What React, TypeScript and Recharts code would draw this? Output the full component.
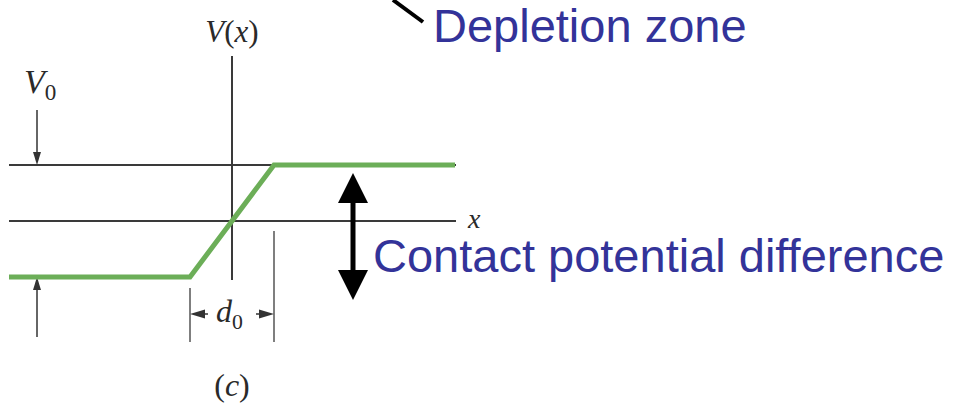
import React from 'react';
import { ComposedChart, Line, XAxis, YAxis, ReferenceLine, ReferenceDot } from 'recharts';

// coordinates are offsets from the origin where the axes cross (x right, V up)
const greenX = [-223, -42, 42, 223];
const greenV = [-56, -56, 56, 56];
const axisSpan = [-223, 224];
const levelTop = 56;
const vAxisSpan = [165, -59];
const d0Left = { x: -42, from: -67, to: -121 };
const d0Right = { x: 42, from: -10, to: -121 };
const d0ArrowV = -93;
const v0ArrowX = -195;
const contactArrowX = 121;
const contactArrowSpan = [48, -79];

const xDomain = [-232, 727];
const yDomain = [-188, 221];

const BLUE = '#333399';
const GREEN = '#6cae58';
const INK = '#3a3a3a';

const data = greenX.map((x, i) => ({ x, v: greenV[i] }));

// arrow drawn along a reference segment, head at (x2, y2), optional head at start
const arrowShape = (headLen: number, headW: number, width: number, color: string, both = false) =>
  (p: any) => {
    const { x1, y1, x2, y2 } = p;
    const dx = x2 - x1;
    const dy = y2 - y1;
    const len = Math.sqrt(dx * dx + dy * dy) || 1;
    const ux = dx / len;
    const uy = dy / len;
    const head = (tx: number, ty: number, sx: number, sy: number) => {
      const bx = tx - sx * headLen;
      const by = ty - sy * headLen;
      const pts = [
        [tx, ty],
        [bx - sy * headW / 2, by + sx * headW / 2],
        [bx + sy * headW / 2, by - sx * headW / 2],
      ];
      return <polygon points={pts.map((q) => q.join(',')).join(' ')} fill={color} />;
    };
    return (
      <g>
        <line
          x1={both ? x1 + ux * headLen * 0.8 : x1}
          y1={both ? y1 + uy * headLen * 0.8 : y1}
          x2={x2 - ux * headLen * 0.8}
          y2={y2 - uy * headLen * 0.8}
          stroke={color}
          strokeWidth={width}
        />
        {head(x2, y2, ux, uy)}
        {both && head(x1, y1, -ux, -uy)}
      </g>
    );
  };

const serif = '"Liberation Serif", "DejaVu Serif", serif';
const sans = '"Liberation Sans", Arial, sans-serif';

const textShape = (
  main: string,
  opts: { size: number; anchor?: string; italic?: boolean; family?: string; fill?: string; sub?: string; parts?: [string, boolean][] }
) =>
  (p: any) => (
    <text
      x={p.cx}
      y={p.cy}
      fontSize={opts.size}
      textAnchor={opts.anchor ?? 'start'}
      fontFamily={opts.family ?? serif}
      fontStyle={opts.italic ? 'italic' : 'normal'}
      fill={opts.fill ?? '#2a2a2a'}
    >
      {opts.parts
        ? opts.parts.map(([t, it], i) => (
            <tspan key={i} fontStyle={it ? 'italic' : 'normal'}>{t}</tspan>
          ))
        : main}
      {opts.sub && (
        <tspan fontSize={opts.size * 0.68} dy={opts.size * 0.22} fontStyle="normal">
          {opts.sub}
        </tspan>
      )}
    </text>
  );

export default function App() {
  return (
    <div style={{ width: 959, height: 409, background: '#fff' }}>
      <style>{`body{margin:0}`}</style>
      <ComposedChart width={959} height={409} data={data} margin={{ top: 0, right: 0, bottom: 0, left: 0 }}>
        <XAxis dataKey="x" type="number" domain={xDomain} hide allowDataOverflow />
        <YAxis type="number" domain={yDomain} hide allowDataOverflow />

        {/* V0 level line and x axis */}
        <ReferenceLine segment={[{ x: axisSpan[0], y: levelTop }, { x: axisSpan[1], y: levelTop }]} stroke={INK} strokeWidth={2} ifOverflow="visible" />
        <ReferenceLine segment={[{ x: axisSpan[0], y: 0 }, { x: axisSpan[1], y: 0 }]} stroke={INK} strokeWidth={2} ifOverflow="visible" />
        {/* V(x) axis */}
        <ReferenceLine segment={[{ x: 0, y: vAxisSpan[0] }, { x: 0, y: vAxisSpan[1] }]} stroke={INK} strokeWidth={2} ifOverflow="visible" />

        {/* d0 markers */}
        <ReferenceLine segment={[{ x: d0Left.x, y: d0Left.from }, { x: d0Left.x, y: d0Left.to }]} stroke="#555" strokeWidth={1.5} ifOverflow="visible" />
        <ReferenceLine segment={[{ x: d0Right.x, y: d0Right.from }, { x: d0Right.x, y: d0Right.to }]} stroke="#555" strokeWidth={1.5} ifOverflow="visible" />
        <ReferenceLine segment={[{ x: -24, y: d0ArrowV }, { x: d0Left.x, y: d0ArrowV }]} shape={arrowShape(15, 9, 1.5, '#333')} ifOverflow="visible" />
        <ReferenceLine segment={[{ x: 24, y: d0ArrowV }, { x: d0Right.x, y: d0ArrowV }]} shape={arrowShape(15, 9, 1.5, '#333')} ifOverflow="visible" />

        {/* V0 arrows */}
        <ReferenceLine segment={[{ x: v0ArrowX, y: 111 }, { x: v0ArrowX, y: levelTop }]} shape={arrowShape(13, 8, 1.5, '#333')} ifOverflow="visible" />
        <ReferenceLine segment={[{ x: v0ArrowX, y: -116 }, { x: v0ArrowX, y: greenV[0] }]} shape={arrowShape(13, 8, 1.5, '#333')} ifOverflow="visible" />

        {/* contact potential double arrow */}
        <ReferenceLine
          segment={[{ x: contactArrowX, y: contactArrowSpan[0] }, { x: contactArrowX, y: contactArrowSpan[1] }]}
          shape={arrowShape(30, 30, 5, '#000', true)}
          ifOverflow="visible"
        />
        {/* pointer to depletion zone */}
        <ReferenceLine segment={[{ x: 161, y: 221 }, { x: 191, y: 199 }]} stroke="#000" strokeWidth={4} ifOverflow="visible" />

        <Line dataKey="v" type="linear" stroke={GREEN} strokeWidth={5} dot={false} activeDot={false} isAnimationActive={false} />

        {/* labels */}
        <ReferenceDot x={0} y={179} r={0} ifOverflow="visible" shape={textShape('', { size: 31, anchor: 'middle', parts: [['V', true], ['(', false], ['x', true], [')', false]] })} />
        <ReferenceDot x={-208} y={128} r={0} ifOverflow="visible" shape={textShape('V', { size: 34, italic: true, sub: '0' })} />
        <ReferenceDot x={-16} y={-101} r={0} ifOverflow="visible" shape={textShape('d', { size: 32, italic: true, sub: '0' })} />
        <ReferenceDot x={0} y={-175} r={0} ifOverflow="visible" shape={textShape('', { size: 32, anchor: 'middle', parts: [['(', false], ['c', true], [')', false]] })} />
        <ReferenceDot x={236} y={-7} r={0} ifOverflow="visible" shape={textShape('x', { size: 28, italic: true })} />
        <ReferenceDot x={201} y={179} r={0} ifOverflow="visible" shape={textShape('Depletion zone', { size: 47, family: sans, fill: BLUE })} />
        <ReferenceDot x={141} y={-51} r={0} ifOverflow="visible" shape={textShape('Contact potential difference', { size: 47, family: sans, fill: BLUE })} />
      </ComposedChart>
    </div>
  );
}
